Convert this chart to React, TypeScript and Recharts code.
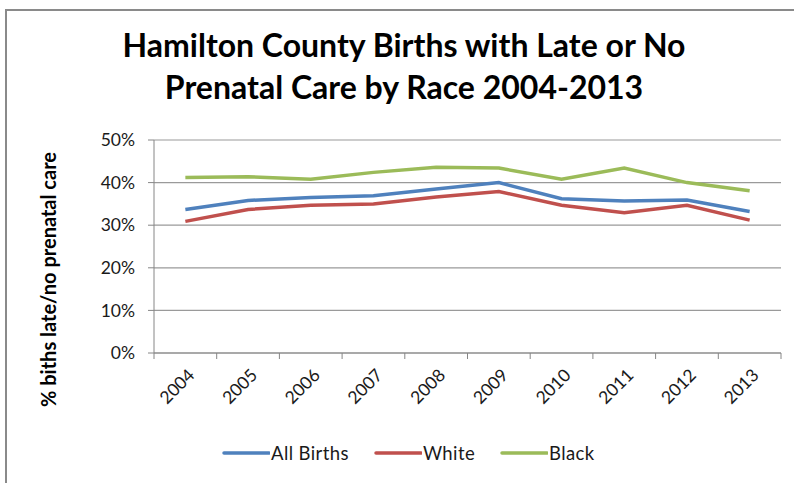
import React from 'react';
import { LineChart, Line, XAxis, YAxis, CartesianGrid } from 'recharts';

const years = ['2004', '2005', '2006', '2007', '2008', '2009', '2010', '2011', '2012', '2013'];
const allBirths = [33.7, 35.8, 36.5, 36.9, 38.5, 40.0, 36.2, 35.7, 35.9, 33.2];
const white = [30.9, 33.7, 34.7, 35.0, 36.6, 37.9, 34.7, 32.9, 34.7, 31.2];
const black = [41.2, 41.4, 40.8, 42.4, 43.6, 43.4, 40.8, 43.4, 40.0, 38.1];
const yTicks = [0, 10, 20, 30, 40, 50];

const series = [
  { key: 'all', name: 'All Births', color: '#4F81BD' },
  { key: 'white', name: 'White', color: '#C0504D' },
  { key: 'black', name: 'Black', color: '#9BBB59' },
];

const data = years.map((year, i) => ({
  year,
  all: allBirths[i],
  white: white[i],
  black: black[i],
}));

const FONT = 'Lato, "Noto Sans", sans-serif';
const W = 794;
const H = 483;
const PLOT_LEFT = 154;
const PLOT_RIGHT = 781;
const PLOT_TOP = 140;
const PLOT_BOTTOM = 353;
const HALF_BAND = (PLOT_RIGHT - PLOT_LEFT) / years.length / 2;
const AXIS_COLOR = '#868686';

const YearTick = (props: any) => {
  const { x, y, payload, index } = props;
  const last = index === years.length - 1;
  return (
    <g>
      <line x1={x - HALF_BAND} x2={x - HALF_BAND} y1={y} y2={y + 6} stroke={AXIS_COLOR} strokeWidth={1} />
      {last && (
        <line x1={x + HALF_BAND} x2={x + HALF_BAND} y1={y} y2={y + 6} stroke={AXIS_COLOR} strokeWidth={1} />
      )}
      <text
        transform={`translate(${x + 6}, ${y + 19}) rotate(-45)`}
        textAnchor="end"
        dy="0.35em"
        fontFamily={FONT}
        fontSize={17.5}
        fill="#1a1a1a"
      >
        {payload.value}
      </text>
    </g>
  );
};

export default function App() {
  return (
    <div style={{ position: 'fixed', left: 0, top: 0, width: W, height: H, background: '#fff', overflow: 'hidden' }}>
      <div
        style={{
          position: 'absolute',
          left: 5,
          top: 9,
          width: W,
          height: H,
          borderLeft: '2px solid #8a8a8a',
          borderTop: '2px solid #8a8a8a',
        }}
      />
      <div
        style={{
          position: 'absolute',
          left: 0,
          top: 24,
          width: 808,
          textAlign: 'center',
          fontFamily: FONT,
          fontWeight: 700,
          fontSize: 32,
          lineHeight: '42px',
          color: '#000',
        }}
      >
        <div>Hamilton County Births with Late or No</div>
        <div>Prenatal Care by Race 2004-2013</div>
      </div>
      <div style={{ position: 'absolute', left: 0, top: 0 }}>
        <LineChart
          width={W}
          height={H}
          data={data}
          margin={{ top: PLOT_TOP, right: W - PLOT_RIGHT, bottom: 0, left: 0 }}
        >
          <CartesianGrid vertical={false} stroke="#9a9a9a" strokeWidth={1.2} />
          <XAxis
            dataKey="year"
            height={H - PLOT_BOTTOM}
            padding={{ left: HALF_BAND, right: HALF_BAND }}
            tickLine={false}
            tickSize={0}
            tickMargin={0}
            interval={0}
            stroke={AXIS_COLOR}
            tick={<YearTick />}
          />
          <YAxis
            width={PLOT_LEFT}
            domain={[0, 50]}
            ticks={yTicks}
            interval={0}
            tickFormatter={(v: number) => `${v}%`}
            stroke={AXIS_COLOR}
            tickSize={6}
            tickMargin={13}
            tick={{ fontFamily: FONT, fontSize: 17.5, fill: '#1a1a1a' }}
            label={{
              value: '% biths late/no prenatal care',
              angle: -90,
              position: 'insideLeft',
              offset: 0,
              style: { fontFamily: FONT, fontSize: 20, fontWeight: 700, fill: '#000', textAnchor: 'middle' },
              dx: 49,
              dy: 33,
            }}
          />
          {series.map((s) => (
            <Line
              key={s.key}
              dataKey={s.key}
              name={s.name}
              stroke={s.color}
              strokeWidth={3.5}
              dot={false}
              isAnimationActive={false}
            />
          ))}
        </LineChart>
      </div>
      <div
        style={{
          position: 'absolute',
          left: 222,
          top: 442,
          display: 'flex',
          alignItems: 'center',
          fontFamily: FONT,
          fontSize: 18.5,
          letterSpacing: 0.4,
          color: '#1a1a1a',
        }}
      >
        {series.map((s) => (
          <div key={s.key} style={{ display: 'flex', alignItems: 'center', marginRight: 25 }}>
            <svg width={48} height={10} style={{ display: 'block' }}>
              <line x1={2} x2={47} y1={5} y2={5} stroke={s.color} strokeWidth={3.5} strokeLinecap="round" />
            </svg>
            <span style={{ marginLeft: 1 }}>{s.name}</span>
          </div>
        ))}
      </div>
    </div>
  );
}
